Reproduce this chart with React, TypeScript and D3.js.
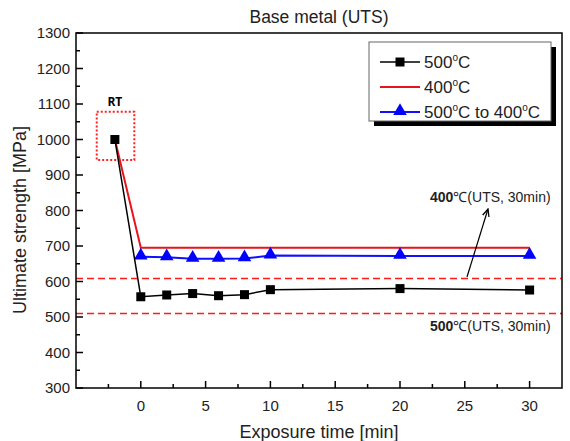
import React, { useEffect, useRef } from "react";
import * as d3 from "d3";

// exposure time [min]
const times = [0, 2, 4, 6, 8, 10, 20, 30];
const rtTime = -2;
const rtValue = 1000;

const uts500 = [557, 562, 566, 560, 563, 577, 580, 576];
const uts400 = [695, 695];
const times400 = [0, 30];
const uts500to400 = [670, 668, 664, 664, 665, 673, 672, 672];

const ref500 = 610;
const ref400 = 510;

const xTicks = [0, 5, 10, 15, 20, 25, 30];
const yTicks = [300, 400, 500, 600, 700, 800, 900, 1000, 1100, 1200, 1300];

const legendLabels = ["500", "400", "500|400"];

const App = () => {
  const ref = useRef<SVGSVGElement>(null);

  const margin = { top: 33, right: 8, bottom: 53, left: 76 };
  const W = 570;
  const H = 441;
  const width = W - margin.left - margin.right;
  const height = H - margin.top - margin.bottom;

  useEffect(() => {
    const svg = d3.select(ref.current);
    svg.selectAll("*").remove();

    const x = d3.scaleLinear().domain([-5, 32.5]).range([0, width]);
    const y = d3.scaleLinear().domain([300, 1300]).range([height, 0]);

    const g = svg.append("g").attr("transform", `translate(${margin.left},${margin.top})`);
    const font = "'Liberation Sans', Arial, sans-serif";

    // title
    svg.append("text")
      .attr("x", margin.left + width / 2)
      .attr("y", 23)
      .attr("text-anchor", "middle")
      .style("font-family", font)
      .style("font-size", "17.5px")
      .attr("fill", "#222")
      .text("Base metal (UTS)");

    // axes with inward ticks
    const xMinor = d3.range(-2.5, 32.5, 2.5).filter((d) => d % 5 !== 0);
    const yMinor = d3.range(350, 1300, 100);

    g.selectAll(".xminor").data(xMinor).enter().append("line")
      .attr("x1", (d) => x(d)).attr("x2", (d) => x(d))
      .attr("y1", height).attr("y2", height - 4)
      .attr("stroke", "#000").attr("stroke-width", 1.5);
    g.selectAll(".xmajor").data(xTicks).enter().append("line")
      .attr("x1", (d) => x(d)).attr("x2", (d) => x(d))
      .attr("y1", height).attr("y2", height - 7)
      .attr("stroke", "#000").attr("stroke-width", 1.5);
    g.selectAll(".yminor").data(yMinor).enter().append("line")
      .attr("x1", 0).attr("x2", 4)
      .attr("y1", (d) => y(d)).attr("y2", (d) => y(d))
      .attr("stroke", "#000").attr("stroke-width", 1.5);
    g.selectAll(".ymajor").data(yTicks).enter().append("line")
      .attr("x1", 0).attr("x2", 7)
      .attr("y1", (d) => y(d)).attr("y2", (d) => y(d))
      .attr("stroke", "#000").attr("stroke-width", 1.5);

    g.selectAll(".xlab").data(xTicks).enter().append("text")
      .attr("x", (d) => x(d))
      .attr("y", height + 23)
      .attr("text-anchor", "middle")
      .style("font-family", font)
      .style("font-size", "15px")
      .attr("fill", "#222")
      .text((d) => d);
    g.selectAll(".ylab").data(yTicks).enter().append("text")
      .attr("x", -6)
      .attr("y", (d) => y(d) + 5)
      .attr("text-anchor", "end")
      .style("font-family", font)
      .style("font-size", "15px")
      .attr("fill", "#222")
      .text((d) => d);

    svg.append("text")
      .attr("x", margin.left + width / 2)
      .attr("y", 438)
      .attr("text-anchor", "middle")
      .style("font-family", font)
      .style("font-size", "18px")
      .attr("fill", "#222")
      .text("Exposure time [min]");
    svg.append("text")
      .attr("transform", `translate(26,220) rotate(-90)`)
      .attr("text-anchor", "middle")
      .style("font-family", font)
      .style("font-size", "18px")
      .attr("fill", "#222")
      .text("Ultimate strength [MPa]");

    // reference dashed lines
    [ref500, ref400].forEach((v) => {
      g.append("line")
        .attr("x1", 0).attr("x2", width)
        .attr("y1", Math.round(y(v)) + 0.5).attr("y2", Math.round(y(v)) + 0.5)
        .attr("stroke", "#ff1a1a").attr("stroke-width", 1.5)
        .attr("stroke-dasharray", "7,4");
    });

    // RT dotted box
    g.append("rect")
      .attr("x", x(-3.4)).attr("y", y(1078))
      .attr("width", x(-0.5) - x(-3.4))
      .attr("height", y(942) - y(1078))
      .attr("fill", "none")
      .attr("stroke", "#ff2020").attr("stroke-width", 2)
      .attr("stroke-dasharray", "2,2");
    g.append("text")
      .attr("x", x(-2))
      .attr("y", y(1078) - 6)
      .attr("text-anchor", "middle")
      .style("font-family", "'Open Sans', sans-serif")
      .style("font-size", "12px")
      .style("font-weight", "bold")
      .text("RT");

    const line = d3.line<[number, number]>().x((d) => x(d[0])).y((d) => y(d[1]));

    // 400°C
    const d400: [number, number][] = [[rtTime, rtValue], ...times400.map((t, i) => [t, uts400[i]] as [number, number])];
    g.append("path").attr("d", line(d400)).attr("fill", "none")
      .attr("stroke", "#e8141b").attr("stroke-width", 2);

    // 500°C to 400°C
    const dMix: [number, number][] = times.map((t, i) => [t, uts500to400[i]]);
    g.append("path").attr("d", line(dMix)).attr("fill", "none")
      .attr("stroke", "#1010ff").attr("stroke-width", 2);
    const tri = d3.symbol().type(d3.symbolTriangle).size(80);
    g.selectAll(".tri").data(dMix).enter().append("path")
      .attr("d", tri)
      .attr("transform", (d) => `translate(${x(d[0])},${y(d[1]) - 1})`)
      .attr("fill", "#0000ff");

    // 500°C
    const d500: [number, number][] = [[rtTime, rtValue], ...times.map((t, i) => [t, uts500[i]] as [number, number])];
    g.append("path").attr("d", line(d500)).attr("fill", "none")
      .attr("stroke", "#000").attr("stroke-width", 1.5);
    g.selectAll(".sq").data(d500).enter().append("rect")
      .attr("x", (d) => x(d[0]) - 4.5)
      .attr("y", (d) => y(d[1]) - 4.5)
      .attr("width", 9).attr("height", 9)
      .attr("fill", "#000");

    // annotations
    const ann = (num: string, tx: number, ty: number) => {
      const t = svg.append("text")
        .attr("x", tx).attr("y", ty)
        .style("font-family", font)
        .style("font-size", "14px")
        .attr("fill", "#222");
      t.append("tspan").style("font-weight", "bold").text(num);
      t.append("tspan").text("\u2103(UTS, 30min)");
    };
    ann("400", 430, 202);
    ann("500", 430, 331);

    svg.append("defs").append("marker")
      .attr("id", "arr").attr("viewBox", "0 0 10 10")
      .attr("refX", 9).attr("refY", 5)
      .attr("markerWidth", 7).attr("markerHeight", 7)
      .attr("orient", "auto")
      .append("path").attr("d", "M0,1 L9,5 L0,9").attr("fill", "none").attr("stroke", "#000").attr("stroke-width", 1.5);
    svg.append("line")
      .attr("x1", 467).attr("y1", 277)
      .attr("x2", 488).attr("y2", 209)
      .attr("stroke", "#000").attr("stroke-width", 1.2)
      .attr("marker-end", "url(#arr)");

    // legend
    const lx = 369, ly = 42, lw = 182, lh = 79;
    svg.append("rect").attr("x", lx + 5).attr("y", ly + 5).attr("width", lw).attr("height", lh).attr("fill", "#000");
    svg.append("rect").attr("x", lx).attr("y", ly).attr("width", lw).attr("height", lh)
      .attr("fill", "#fff").attr("stroke", "#666").attr("stroke-width", 1);

    const colors = ["#000", "#e8141b", "#1010ff"];
    legendLabels.forEach((lab, i) => {
      const yy = ly + 20 + i * 25;
      svg.append("line").attr("x1", lx + 11).attr("x2", lx + 51)
        .attr("y1", yy).attr("y2", yy)
        .attr("stroke", colors[i]).attr("stroke-width", i === 0 ? 1.5 : 2);
      if (i === 0) {
        svg.append("rect").attr("x", lx + 26.5).attr("y", yy - 4.5).attr("width", 9).attr("height", 9).attr("fill", "#000");
      }
      if (i === 2) {
        svg.append("path").attr("d", tri).attr("transform", `translate(${lx + 31},${yy - 1})`).attr("fill", "#0000ff");
      }
      const t = svg.append("text").attr("x", lx + 55).attr("y", yy + 6)
        .style("font-family", font).style("font-size", "17px").attr("fill", "#222");
      const parts = lab.split("|");
      parts.forEach((p, j) => {
        t.append("tspan").text((j > 0 ? " to " : "") + p);
        t.append("tspan").attr("dy", -7).style("font-size", "10px").text("o");
        t.append("tspan").attr("dy", 7).text("C");
      });
    });

    // frame
    g.append("rect").attr("x", 0).attr("y", 0).attr("width", width).attr("height", height)
      .attr("fill", "none").attr("stroke", "#000").attr("stroke-width", 1.5);
  }, [width, height, margin.left, margin.top]);

  return (
    <svg ref={ref} width={W} height={H} style={{ position: "absolute", left: 0, top: 0, background: "#fff" }}></svg>
  );
};

export default App;
